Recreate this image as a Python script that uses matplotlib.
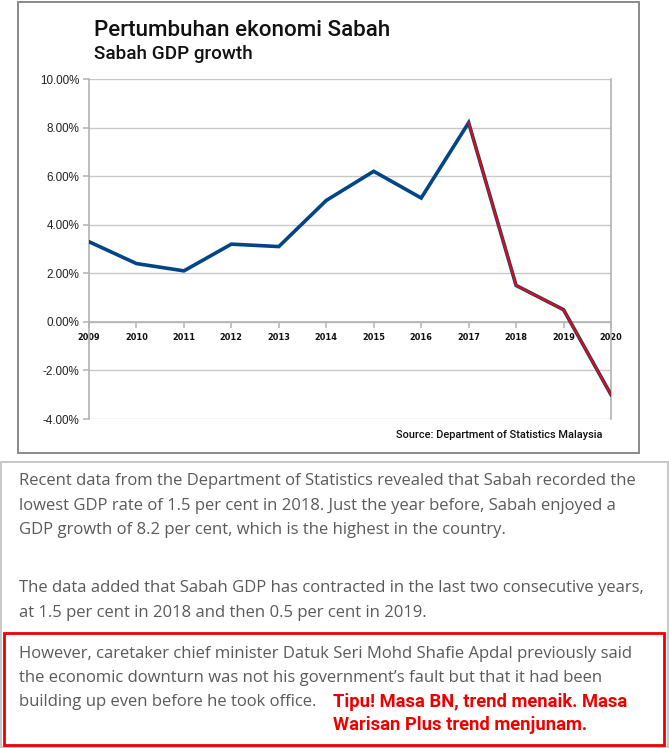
import matplotlib
matplotlib.use("Agg")
import matplotlib.pyplot as plt
from matplotlib.patches import Rectangle

# data
years = [2009, 2010, 2011, 2012, 2013, 2014, 2015, 2016, 2017, 2018, 2019, 2020]
gdp = [3.3, 2.4, 2.1, 3.2, 3.1, 5.0, 6.2, 5.1, 8.2, 1.5, 0.5, -3.0]
yticks = [-4, -2, 0, 2, 4, 6, 8, 10]

title = "Pertumbuhan ekonomi Sabah"
subtitle = "Sabah GDP growth"
source = "Source: Department of Statistics Malaysia"

para1 = ["Recent data from the Department of Statistics revealed that Sabah recorded the",
         "lowest GDP rate of 1.5 per cent in 2018. Just the year before, Sabah enjoyed a",
         "GDP growth of 8.2 per cent, which is the highest in the country."]
para2 = ["The data added that Sabah GDP has contracted in the last two consecutive years,",
         "at 1.5 per cent in 2018 and then 0.5 per cent in 2019."]
para3 = ["However, caretaker chief minister Datuk Seri Mohd Shafie Apdal previously said",
         "the economic downturn was not his government\u2019s fault but that it had been",
         "building up even before he took office."]
note = ["Tipu! Masa BN, trend menaik. Masa", "Warisan Plus trend menjunam."]

W, H = 669, 748
fig = plt.figure(figsize=(W / 100, H / 100), dpi=100)


def fx(x):
    return x / W


def fy(y):
    return 1 - y / H


# panel boxes
fig.patches.append(Rectangle((fx(18), fy(453)), fx(639) - fx(18), fy(2) - fy(453),
                             transform=fig.transFigure, fill=False, ec="#8a8a8a", lw=1.4))
fig.patches.append(Rectangle((fx(1), fy(747)), fx(668) - fx(1), fy(462) - fy(747),
                             transform=fig.transFigure, fill=False, ec="#c8c8c8", lw=1.4))
fig.patches.append(Rectangle((fx(4), fy(745)), fx(664) - fx(4), fy(633) - fy(745),
                             transform=fig.transFigure, fill=False, ec="#ee0000", lw=2))

# chart
ax = fig.add_axes([fx(89), fy(419), fx(611) - fx(89), fy(79) - fy(419)])
# move the x axis to zero first, this resets the ticks
ax.spines["bottom"].set_position(("data", 0))
ax.plot(years, gdp, color="#004586", lw=2.6, solid_joinstyle="miter", zorder=3)
ax.plot(years[8:], gdp[8:], color="#ff0000", lw=1.4, zorder=4)
ax.set_xlim(years[0], years[-1])
ax.set_ylim(yticks[0], yticks[-1])
ax.set_yticks(yticks)
ax.set_yticklabels([f"{v:.2f}%" for v in yticks], fontsize=8.4,
                   family="Liberation Sans", color="#222222")
ax.set_xticks(years)
ax.set_xticklabels([str(y) for y in years], fontsize=6.6, family="DejaVu Sans",
                   fontstretch="condensed", fontweight="bold", color="#111111")
for s in ["left", "bottom", "right", "top"]:
    ax.spines[s].set_color("#b3b3b3")
    ax.spines[s].set_linewidth(1.2)
ax.spines["top"].set_visible(False)
ax.grid(axis="y", color="#c8c8c8", lw=1.0)
ax.tick_params(axis="both", color="#b3b3b3", length=4, width=1.1)
ax.tick_params(axis="y", pad=3)
ax.tick_params(axis="x", pad=4)
ax.set_axisbelow(True)

# titles and source
fig.text(fx(94), fy(30), title, fontsize=16.1, family="Roboto", fontweight="medium",
         va="center", ha="left", color="#111111")
fig.text(fx(94), fy(54), subtitle, fontsize=13.6, family="Roboto", fontweight="medium",
         va="center", ha="left", color="#111111")
fig.text(fx(603), fy(435), source, fontsize=7.9, family="Roboto", fontweight="medium",
         va="center", ha="right", color="#111111")

# article text
body = dict(fontsize=12.0, family="Open Sans", color="#5a5a5a", va="center", ha="left")
for line, y in zip(para1, [481, 506, 530]):
    fig.text(fx(19), fy(y), line, **body)
for line, y in zip(para2, [588, 613]):
    fig.text(fx(19), fy(y), line, **body)
for line, y in zip(para3, [654, 678, 702]):
    fig.text(fx(19), fy(y), line, **body)

for line, y in zip(note, [702, 725]):
    fig.text(fx(333), fy(y), line, fontsize=13.2, family="Roboto", fontweight="bold",
             color="#ee0000", va="center", ha="left")

fig.savefig("out.png", dpi=100)
